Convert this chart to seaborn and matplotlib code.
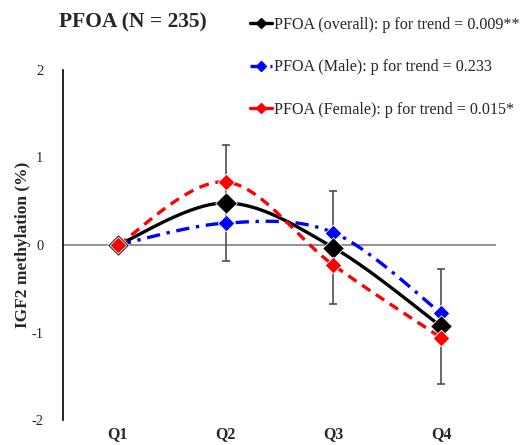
import numpy as np
import pandas as pd
import matplotlib.pyplot as plt
import seaborn as sns
from matplotlib.lines import Line2D

# quartile categories and estimates
quartiles = ['Q1', 'Q2', 'Q3', 'Q4']
overall = [0.0, 0.48, -0.03, -0.93]
overall_err = [0.06, 0.66, 0.645, 0.66]
male = [0.0, 0.25, 0.14, -0.78]
female = [0.0, 0.72, -0.23, -1.06]

labels = ['PFOA (overall): p for trend = 0.009**',
          'PFOA (Male): p for trend = 0.233',
          'PFOA (Female): p for trend = 0.015*']


def smooth(y, n=40):
    # Excel-style smoothed line (Catmull-Rom through the points)
    x = np.arange(len(y), dtype=float)
    y = np.asarray(y, dtype=float)
    px = np.concatenate([[x[0]], x, [x[-1]]])
    py = np.concatenate([[y[0]], y, [y[-1]]])
    xs, ys = [], []
    for i in range(1, len(px) - 2):
        t = np.linspace(0, 1, n)
        p0, p1, p2, p3 = [np.array([px[j], py[j]]) for j in range(i - 1, i + 3)]
        c1 = p1 + (p2 - p0) / 6
        c2 = p2 - (p3 - p1) / 6
        b = ((1 - t) ** 3)[:, None] * p1 + (3 * (1 - t) ** 2 * t)[:, None] * c1 \
            + (3 * (1 - t) * t ** 2)[:, None] * c2 + (t ** 3)[:, None] * p2
        xs.extend(b[:, 0])
        ys.extend(b[:, 1])
    return np.array(xs), np.array(ys)


sns.set_style('white')
plt.rcParams['font.family'] = ['Liberation Serif', 'DejaVu Serif']

fig = plt.figure(figsize=(5.25, 4.45), dpi=100)
ax = fig.add_axes([0.12, 0.056, 0.825, 0.787])

xpos = np.arange(len(quartiles))
ax.axhline(0, color='#808080', lw=1.2, zorder=1)
ax.errorbar(xpos, overall, yerr=overall_err, fmt='none', ecolor='#404040',
            elinewidth=1.1, capsize=3, capthick=1.1, zorder=2)

series = [
    (male, 'blue', (0, (4, 2, 1, 2)), 8.5),
    (overall, 'black', '-', 11),
    (female, 'red', (0, (3, 2)), 8.5),
]
for vals, col, ls, ms in series:
    sx, sy = smooth(vals)
    sns.lineplot(x=sx, y=sy, ax=ax, color=col, lw=2.4, linestyle=ls,
                 sort=False, estimator=None, zorder=3)
for vals, col, ls, ms in series:
    sns.scatterplot(x=xpos, y=vals, ax=ax, color=col, marker='D', s=ms ** 2,
                    edgecolor='white', linewidth=0.6, zorder=4)

ax.set_xlim(-0.51, 3.51)
ax.set_ylim(-2, 2)
ax.set_yticks([-2, -1, 0, 1, 2])
ax.set_yticklabels(['-2', '-1', '0', '1', '2'], fontsize=10.5)
ax.set_xticks(xpos)
ax.set_xticklabels(quartiles, fontsize=11.5, fontweight='bold')
ax.tick_params(axis='x', length=0, pad=4)
ax.tick_params(axis='y', length=0, pad=14)
for s in ['top', 'right', 'bottom']:
    ax.spines[s].set_visible(False)
ax.spines['left'].set_color('black')
ax.spines['left'].set_linewidth(1.2)

ax.set_ylabel('IGF2 methylation (%)', fontsize=12.5, fontweight='bold', labelpad=0)

fig.text(0.113, 0.95, 'PFOA (N = 235)', fontsize=15.5, fontweight='bold', va='center')

handles = [
    Line2D([], [], color='black', lw=2.4, ls='-', marker='D', ms=5),
    Line2D([], [], color='blue', lw=2.4, ls=(0, (4, 2, 1, 2)), marker='D', ms=5),
    Line2D([], [], color='red', lw=2.4, ls='-', marker='D', ms=5),
]
fig.legend(handles, labels, loc='upper left', bbox_to_anchor=(0.448, 0.995),
           frameon=False, fontsize=11.6, handlelength=1.4, handletextpad=0.1,
           labelspacing=1.65)

plt.savefig('out.png', dpi=100)
